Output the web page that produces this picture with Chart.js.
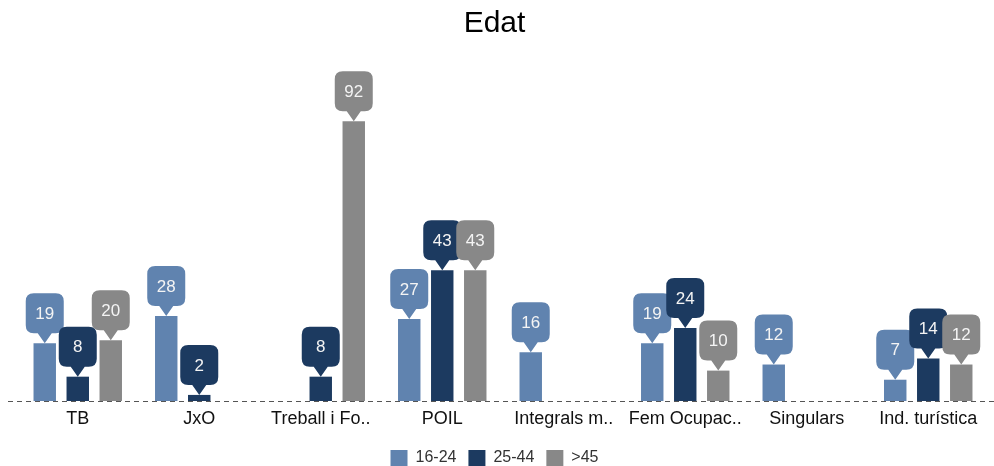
<!DOCTYPE html>
<html>
<head>
<meta charset="utf-8">
<script src="https://cdn.jsdelivr.net/npm/chart.js@4/dist/chart.umd.min.js"></script>
<style>
  html, body { margin: 0; padding: 0; background: #fff; }
  #wrap { width: 994px; height: 466px; }
</style>
</head>
<body>
<div id="wrap"><canvas id="edatChart" width="994" height="466"></canvas></div>
<script>
// chart data
var categories = ['TB', 'JxO', 'Treball i Fo..', 'POIL', 'Integrals m..', 'Fem Ocupac..', 'Singulars', 'Ind. turística'];
var seriesNames = ['16-24', '25-44', '>45'];
var edat1624 = [19, 28, null, 27, 16, 19, 12, 7];
var edat2544 = [8, 2, 8, 43, null, 24, null, 14];
var edat45 = [20, null, 92, 43, null, 10, null, 12];
var colors = ['#6083AF', '#1C3A60', '#888888'];
var fontFam = '"Liberation Sans", Arial, sans-serif';

// callout bubbles above each bar + dashed baseline
var calloutPlugin = {
    id: 'callouts',
    afterDatasetsDraw: function(chart) {
        var ctx = chart.ctx;
        var yZero = chart.scales.y.getPixelForValue(0);
        ctx.save();
        ctx.strokeStyle = '#555';
        ctx.lineWidth = 1;
        ctx.setLineDash([5, 4]);
        ctx.beginPath();
        ctx.moveTo(8, Math.round(yZero) + 0.5);
        ctx.lineTo(994, Math.round(yZero) + 0.5);
        ctx.stroke();
        ctx.setLineDash([]);

        chart.data.datasets.forEach(function(ds, di) {
            var meta = chart.getDatasetMeta(di);
            meta.data.forEach(function(bar, i) {
                var v = ds.data[i];
                if (v === null || v === undefined) return;
                var w = 38, h = 40, r = 8, ph = 10, pw = 7;
                var cx = bar.x;
                var tip = bar.y;
                var bottom = tip - ph;
                var top = bottom - h;
                var left = cx - w / 2, right = cx + w / 2;
                ctx.fillStyle = ds.backgroundColor;
                ctx.beginPath();
                ctx.moveTo(left + r, top);
                ctx.lineTo(right - r, top);
                ctx.quadraticCurveTo(right, top, right, top + r);
                ctx.lineTo(right, bottom - r);
                ctx.quadraticCurveTo(right, bottom, right - r, bottom);
                ctx.lineTo(cx + pw, bottom);
                ctx.lineTo(cx, tip);
                ctx.lineTo(cx - pw, bottom);
                ctx.lineTo(left + r, bottom);
                ctx.quadraticCurveTo(left, bottom, left, bottom - r);
                ctx.lineTo(left, top + r);
                ctx.quadraticCurveTo(left, top, left + r, top);
                ctx.closePath();
                ctx.fill();
                ctx.fillStyle = '#f4f4f4';
                ctx.font = '17px ' + fontFam;
                ctx.textAlign = 'center';
                ctx.textBaseline = 'middle';
                ctx.fillText(String(v), cx, top + h / 2 + 1);
            });
        });
        ctx.restore();
    }
};

var ctx = document.getElementById('edatChart').getContext('2d');
var edatChart = new Chart(ctx, {
    type: 'bar',
    data: {
        labels: categories,
        datasets: [
            { label: seriesNames[0], data: edat1624, backgroundColor: colors[0] },
            { label: seriesNames[1], data: edat2544, backgroundColor: colors[1] },
            { label: seriesNames[2], data: edat45, backgroundColor: colors[2] }
        ]
    },
    options: {
        responsive: false,
        animation: false,
        categoryPercentage: 0.815,
        barPercentage: 0.68,
        layout: {
            padding: { left: 0, right: 5, top: 0, bottom: -10 }
        },
        plugins: {
            title: {
                display: true,
                text: 'Edat',
                color: '#000',
                font: { family: fontFam, size: 30, weight: 'normal' },
                padding: { top: 6, bottom: 55 }
            },
            legend: {
                position: 'bottom',
                labels: {
                    color: '#333',
                    boxWidth: 17,
                    boxHeight: 16,
                    padding: 12,
                    font: { family: fontFam, size: 16 }
                }
            },
            tooltip: { enabled: false }
        },
        scales: {
            x: {
                grid: { display: false, drawTicks: false },
                border: { display: false },
                ticks: {
                    color: '#111',
                    maxRotation: 0,
                    autoSkip: false,
                    padding: 7,
                    font: { family: fontFam, size: 18 }
                },
                afterFit: function(scale) { scale.height = 37; }
            },
            y: {
                display: true,
                min: 0,
                max: 100,
                grid: { display: false, drawTicks: false },
                border: { display: false },
                ticks: { display: false },
                afterFit: function(scale) { scale.width = 17; }
            }
        }
    },
    plugins: [calloutPlugin]
});
</script>
</body>
</html>
